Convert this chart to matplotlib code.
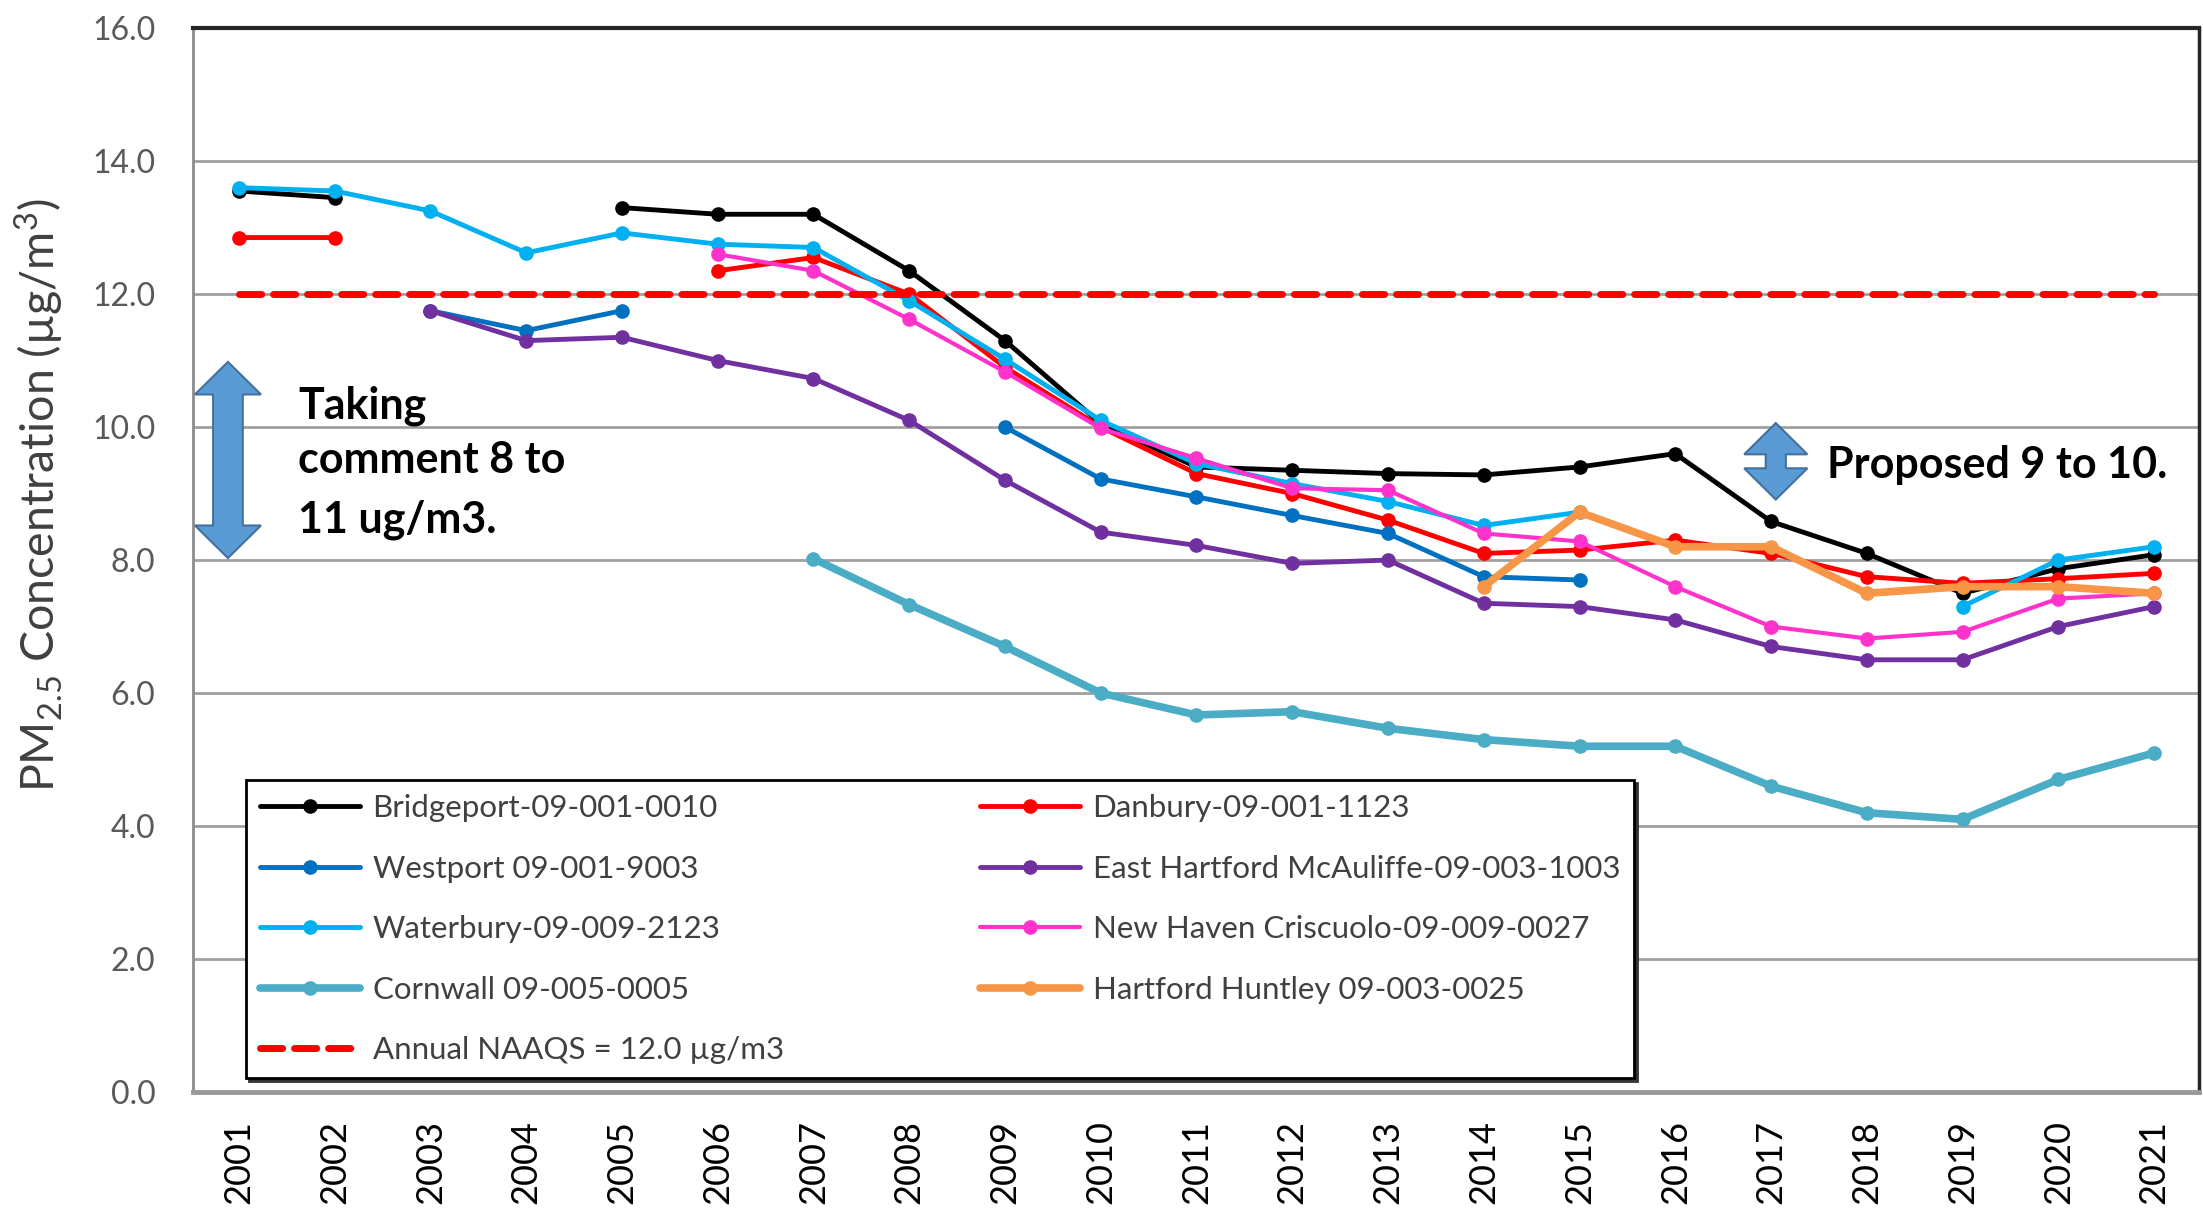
# -*- coding: utf-8 -*-
# PM2.5 annual design values, Connecticut monitors, 2001-2021

#%% Packages

import numpy as np
import matplotlib.pyplot as plt
from matplotlib.patches import Polygon

plt.rcParams['font.family'] = ['Lato', 'DejaVu Sans']
plt.rcParams['mathtext.fontset'] = 'custom'
plt.rcParams['mathtext.rm'] = 'Lato'
plt.rcParams['mathtext.it'] = 'Lato:italic'
plt.rcParams['mathtext.bf'] = 'Lato:bold'

#%% Data (ug/m3)

nan = np.nan
years = list(range(2001, 2022))

bridgeport = [13.55, 13.45, nan, nan, 13.3, 13.2, 13.2, 12.35, 11.3, 10.05, 9.4,
              9.35, 9.3, 9.28, 9.4, 9.6, 8.58, 8.1, 7.5, 7.87, 8.08]
danbury = [12.85, 12.85, nan, nan, nan, 12.35, 12.55, 12.0, 10.9, 10.0, 9.3,
           9.0, 8.6, 8.1, 8.15, 8.3, 8.1, 7.75, 7.65, 7.72, 7.8]
westport = [nan, nan, 11.75, 11.45, 11.75, nan, nan, nan, 10.0, 9.22, 8.95,
            8.67, 8.4, 7.75, 7.7, nan, nan, nan, nan, nan, nan]
east_hartford = [nan, nan, 11.75, 11.3, 11.35, 11.0, 10.73, 10.1, 9.2, 8.42, 8.22,
                 7.95, 8.0, 7.35, 7.3, 7.1, 6.7, 6.5, 6.5, 7.0, 7.3]
waterbury = [13.6, 13.55, 13.25, 12.62, 12.92, 12.75, 12.7, 11.9, 11.02, 10.1, 9.45,
             9.15, 8.88, 8.52, 8.72, nan, nan, nan, 7.3, 8.0, 8.2]
new_haven = [nan, nan, nan, nan, nan, 12.6, 12.35, 11.62, 10.83, 9.98, 9.53,
             9.08, 9.05, 8.4, 8.28, 7.6, 7.0, 6.82, 6.92, 7.42, 7.5]
cornwall = [nan, nan, nan, nan, nan, nan, 8.02, 7.33, 6.7, 6.0, 5.67,
            5.72, 5.47, 5.3, 5.2, 5.2, 4.6, 4.2, 4.1, 4.7, 5.1]
hartford_huntley = [nan, nan, nan, nan, nan, nan, nan, nan, nan, nan, nan,
                    nan, nan, 7.6, 8.72, 8.2, 8.2, 7.5, 7.6, 7.6, 7.5]

naaqs_years = [2001, 2021]
naaqs = [12.0, 12.0]

# name, values, colour, line width
series = [
    ('Bridgeport-09-001-0010', bridgeport, 'black', 3.5),
    ('Danbury-09-001-1123', danbury, '#FF0000', 3.5),
    ('Westport 09-001-9003', westport, '#0070C0', 3.5),
    ('East Hartford McAuliffe-09-003-1003', east_hartford, '#7030A0', 3.5),
    ('Waterbury-09-009-2123', waterbury, '#00B0F0', 3.5),
    ('New Haven Criscuolo-09-009-0027', new_haven, '#FF33CC', 3),
    ('Cornwall 09-005-0005', cornwall, '#4BACC6', 5.5),
    ('Hartford Huntley 09-003-0025', hartford_huntley, '#F79646', 5.5),
]

#%% Plot

fig = plt.figure(figsize=(22.03, 12.10), dpi=100)
ax = fig.add_axes([0.0876, 0.0975, 0.9106, 0.8793])

lines = {}
for name, vals, col, lw in series:
    l, = ax.plot(years, vals, color=col, lw=lw, marker='o', ms=9.5,
                 solid_joinstyle='round', solid_capstyle='round', label=name, zorder=3)
    lines[name] = l

l_naaqs, = ax.plot(naaqs_years, naaqs, color='#FF0000', lw=5, ls=(0, (3.2, 1.7)),
                   dash_capstyle='round', label='Annual NAAQS = 12.0 µg/m3', zorder=4)

ax.set_xlim(2000.52, 2021.47)
ax.set_ylim(0, 16)
ax.set_xticks(years)
ax.set_xticklabels([str(y) for y in years], rotation=90, fontsize=26)
ax.set_yticks(np.arange(0, 16.1, 2))
ax.set_yticklabels(['%.1f' % v for v in np.arange(0, 16.1, 2)], fontsize=23, color='#595959')
ax.tick_params(axis='both', length=0)
ax.tick_params(axis='x', pad=20)
ax.tick_params(axis='y', pad=27)

ax.yaxis.grid(True, color='#A0A0A0', lw=2)
ax.set_axisbelow(True)

ax.spines['top'].set_color('0.15')
ax.spines['top'].set_linewidth(3)
ax.spines['right'].set_color('0.15')
ax.spines['right'].set_linewidth(2.5)
ax.spines['left'].set_color('0.55')
ax.spines['left'].set_linewidth(2)
ax.spines['bottom'].set_color('0.6')
ax.spines['bottom'].set_linewidth(3.5)

fig.text(0.0177, 0.591, r'PM$_{2.5}$ Concentration (µg/m$^3$)', rotation=90,
         ha='center', va='center', fontsize=33.5, color='#404040')

#%% Annotations


def double_arrow(ax, x, y0, y1, head_w, shaft_w, head_len):
    pts = [(x, y1), (x + head_w / 2, y1 - head_len), (x + shaft_w / 2, y1 - head_len),
           (x + shaft_w / 2, y0 + head_len), (x + head_w / 2, y0 + head_len), (x, y0),
           (x - head_w / 2, y0 + head_len), (x - shaft_w / 2, y0 + head_len),
           (x - shaft_w / 2, y1 - head_len), (x - head_w / 2, y1 - head_len)]
    ax.add_patch(Polygon(pts, closed=True, fc='#5B9BD5', ec='#41719C', lw=1.5,
                         zorder=6, clip_on=False))


double_arrow(ax, 2000.885, 8.03, 10.98, 0.69, 0.31, 0.49)
double_arrow(ax, 2017.05, 8.91, 10.06, 0.66, 0.21, 0.47)

left_text = ['Taking', 'comment 8 to', '11 ug/m3.']
left_base = [10.13, 9.31, 8.41]
for s, yb in zip(left_text, left_base):
    ax.text(2001.62, yb, s, fontsize=31, fontweight='bold', va='baseline', ha='left', zorder=7)

ax.text(2017.58, 9.24, 'Proposed 9 to 10.', fontsize=31, fontweight='bold',
        va='baseline', ha='left', zorder=7)

#%% Legend

handles = [lines['Bridgeport-09-001-0010'], lines['Westport 09-001-9003'],
           lines['Waterbury-09-009-2123'], lines['Cornwall 09-005-0005'], l_naaqs,
           lines['Danbury-09-001-1123'], lines['East Hartford McAuliffe-09-003-1003'],
           lines['New Haven Criscuolo-09-009-0027'], lines['Hartford Huntley 09-003-0025']]

leg = ax.legend(handles=handles, loc='lower left', bbox_to_anchor=(0.0264, 0.013, 0.692, 0.283),
                mode='expand', ncol=2, fontsize=22.5, fancybox=False, framealpha=1,
                shadow={'color': '0.2', 'alpha': 1}, edgecolor='black',
                handlelength=3.2, handletextpad=0.4, labelspacing=1.04,
                borderpad=0.45, borderaxespad=0)
leg.get_frame().set_linewidth(2)
leg.set_zorder(8)
for t in leg.get_texts():
    t.set_color('#404040')

fig.savefig('out.png', dpi=100)
